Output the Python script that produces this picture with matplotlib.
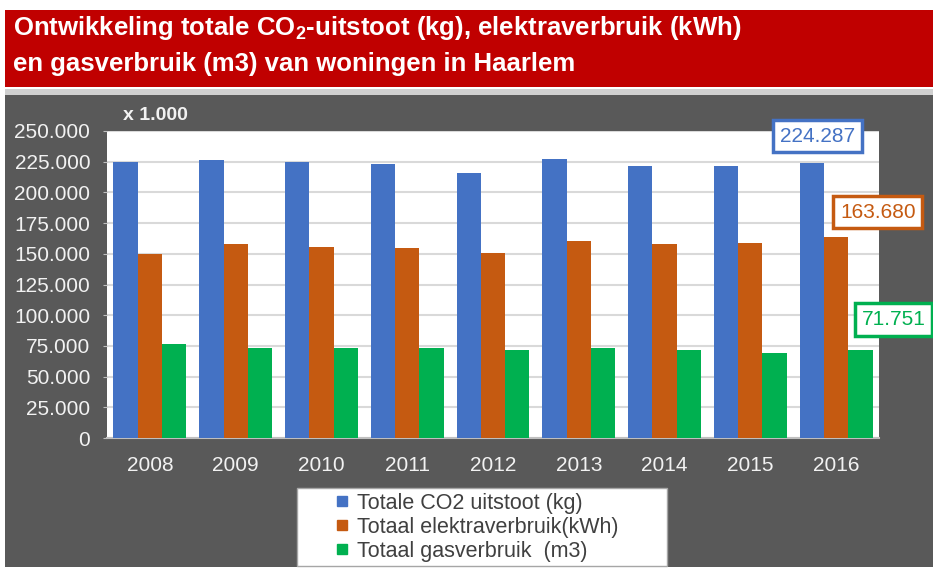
import numpy as np
import matplotlib
matplotlib.use("Agg")
import matplotlib.pyplot as plt
from matplotlib.patches import Rectangle
from matplotlib.lines import Line2D
from matplotlib.ticker import FuncFormatter

plt.rcParams['font.family'] = ['Liberation Sans', 'DejaVu Sans']

# data (in kg / kWh / m3)
years = ['2008', '2009', '2010', '2011', '2012', '2013', '2014', '2015', '2016']
co2 = [224500, 226100, 224500, 222900, 216100, 227300, 221200, 221200, 224287]
elektra = [149700, 157800, 155900, 154600, 151000, 160500, 157800, 159200, 163680]
gas = [76400, 72900, 72900, 72900, 71500, 72900, 71500, 69600, 71751]
series_names = ['Totale CO2 uitstoot (kg)', 'Totaal elektraverbruik(kWh)', 'Totaal gasverbruik  (m3)']
colors = ['#4472C4', '#C55A11', '#00B050']

W, H = 933, 574
fig = plt.figure(figsize=(W / 100, H / 100), dpi=100)
fig.patch.set_facecolor('white')

def fx(px):
    return px / W

def fy(py):
    return 1 - py / H

# red title banner and dark panel
fig.patches.append(Rectangle((fx(5), fy(87)), fx(928), 77 / H, transform=fig.transFigure,
                             facecolor='#C00000', edgecolor='none', zorder=-2))
fig.patches.append(Rectangle((fx(5), fy(95)), fx(928), 6 / H, transform=fig.transFigure,
                             facecolor='#D0D0D0', edgecolor='none', zorder=-2))
fig.patches.append(Rectangle((fx(5), fy(567)), fx(928), 472 / H, transform=fig.transFigure,
                             facecolor='#595959', edgecolor='none', zorder=-2))

fig.text(fx(13), fy(35), 'Ontwikkeling totale CO$_\\mathregular{2}$-uitstoot (kg), elektraverbruik (kWh)',
         color='white', fontsize=18.5, fontweight='bold', va='baseline', ha='left')
fig.text(fx(13), fy(71), 'en gasverbruik (m3) van woningen in Haarlem',
         color='white', fontsize=18.5, fontweight='bold', va='baseline', ha='left')
fig.text(fx(123), fy(116), 'x 1.000', color='#F2F2F2', fontsize=14, fontweight='bold',
         va='center', ha='left')

ax = fig.add_axes([fx(107), fy(438), fx(879 - 107), (438 - 131) / H])
ax.set_facecolor('white')

x = np.arange(len(years))
bw = 0.85 / 3
all_series = [co2, elektra, gas]
for i, (vals, c) in enumerate(zip(all_series, colors)):
    ax.bar(x + (i - 1) * bw, vals, width=bw, color=c, zorder=3)

ax.set_xlim(-0.5, len(years) - 0.5)
ax.set_ylim(0, 250000)
ax.set_yticks(np.arange(0, 250001, 25000))
ax.yaxis.set_major_formatter(FuncFormatter(lambda v, p: f'{int(v):,}'.replace(',', '.')))
ax.set_xticks(x)
ax.set_xticklabels(years)
ax.grid(axis='y', color='#D9D9D9', lw=1.5, zorder=0)
for s in ['top', 'right', 'left']:
    ax.spines[s].set_visible(False)
ax.spines['bottom'].set_color('#BFBFBF')
ax.spines['bottom'].set_linewidth(1.5)
ax.tick_params(axis='y', colors='#BFBFBF', length=3, labelcolor='#F2F2F2', labelsize=15, pad=9)
ax.tick_params(axis='x', length=0, labelcolor='#F2F2F2', labelsize=15, pad=13)

# value labels for 2016
last = len(years) - 1
offsets = [(4, 19), (30, 18), (24, 22)]
for i, (vals, c) in enumerate(zip(all_series, colors)):
    txt = f'{vals[last]:,}'.replace(',', '.')
    ax.annotate(txt, xy=(last + (i - 1) * bw, vals[last]), xytext=offsets[i],
                textcoords='offset points', ha='center', va='center', color=c,
                fontsize=15, annotation_clip=False, zorder=5,
                bbox=dict(boxstyle='square,pad=0.32', facecolor='white', edgecolor=c, lw=2.5))

# legend box
fig.patches.append(Rectangle((fx(297), fy(566)), fx(370), 78 / H, transform=fig.transFigure,
                             facecolor='white', edgecolor='#A6A6A6', lw=1, zorder=1))
handles = [Line2D([], [], marker='s', color=c, ls='none', markersize=7) for c in colors]
leg = fig.legend(handles, series_names, loc='upper left', bbox_to_anchor=(fx(333), fy(493)),
                 frameon=False, fontsize=15.5, handlelength=0.8, handletextpad=0.3,
                 labelspacing=0.13, borderpad=0, borderaxespad=0)
for t in leg.get_texts():
    t.set_color('#404040')

fig.savefig('out.png', dpi=100)
